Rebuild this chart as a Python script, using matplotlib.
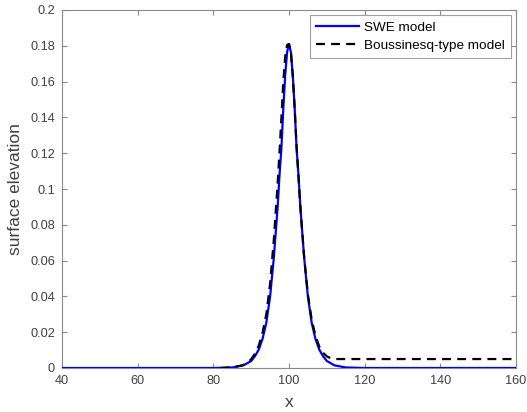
import matplotlib
matplotlib.use("Agg")
import matplotlib.pyplot as plt

# SWE model (blue, solid)
swe_x = [40, 80, 85, 88, 90, 91, 92, 93, 94, 95, 96, 97, 97.5, 98, 98.5, 99, 99.5, 100,
         100.5, 101, 101.5, 102, 102.5, 103, 104, 105, 106, 107, 108, 109, 110, 112, 115, 120, 160]
swe_y = [0, 0, 0.0003, 0.0015, 0.0039, 0.0066, 0.0103, 0.0162, 0.0252, 0.0398, 0.0618, 0.090, 0.108,
         0.123, 0.145, 0.1637, 0.1765, 0.181,
         0.1765, 0.1637, 0.145, 0.123, 0.108, 0.090, 0.0618, 0.0398, 0.0252, 0.0162, 0.0103,
         0.0066, 0.0039, 0.0015, 0.0003, 0, 0]

# Boussinesq-type model (black, dashed)
bous_x = [82, 85, 87, 88, 89, 90, 91, 92, 93, 94, 95, 96, 97, 97.5, 98, 98.5, 99, 99.5, 100,
          100.5, 101, 101.5, 102, 102.5, 103, 104, 105, 106, 107, 108, 109, 110, 111, 112, 160]
bous_y = [0, 0.0004, 0.0012, 0.0018, 0.0029, 0.0049, 0.0080, 0.0124, 0.0196, 0.030, 0.047, 0.072,
          0.103, 0.121, 0.140, 0.160, 0.174, 0.1805, 0.181,
          0.1765, 0.163, 0.145, 0.124, 0.107, 0.090, 0.062, 0.041, 0.027, 0.018, 0.012,
          0.0085, 0.0065, 0.0055, 0.005, 0.005]

x_ticks = [40, 60, 80, 100, 120, 140, 160]
y_ticks = [0, 0.02, 0.04, 0.06, 0.08, 0.1, 0.12, 0.14, 0.16, 0.18, 0.2]
y_tick_labels = ["0", "0.02", "0.04", "0.06", "0.08", "0.1", "0.12", "0.14", "0.16", "0.18", "0.2"]

plt.rcParams["font.family"] = ["Liberation Sans", "DejaVu Sans"]

W, H = 527, 412
fig = plt.figure(figsize=(W / 100, H / 100), dpi=100)
ax = fig.add_axes([62 / W, 1 - 368 / H, (516 - 62) / W, (368 - 10) / H])

spine_col = "#8a8a8a"
text_col = "#404040"

ax.plot(swe_x, swe_y, color="#0000ff", lw=1.6, label="SWE model", zorder=3)
ax.plot(bous_x, bous_y, color="black", lw=1.6, linestyle=(0, (4, 2.8)),
        label="Boussinesq-type model", zorder=4)

ax.set_xlim(40, 160)
ax.set_ylim(0, 0.2)
ax.set_xticks(x_ticks)
ax.set_yticks(y_ticks)
ax.set_yticklabels(y_tick_labels)

for s in ax.spines.values():
    s.set_color(spine_col)
    s.set_linewidth(0.8)
ax.tick_params(direction="in", length=3.5, width=0.8, color=spine_col,
               labelcolor=text_col, labelsize=9.2, top=True, right=True, pad=5)

ax.set_xlabel("x", fontsize=12.5, color=text_col, labelpad=6)
ax.set_ylabel("surface elevation", fontsize=12.5, color=text_col, labelpad=5)

leg = ax.legend(loc="upper right", fontsize=9.7, frameon=True, fancybox=False,
                edgecolor=spine_col, borderpad=0.46, handlelength=3.2,
                handletextpad=0.35, labelspacing=0.4, borderaxespad=0.4)
leg.get_frame().set_linewidth(0.8)
for t in leg.get_texts():
    t.set_color("black")

fig.savefig("out.png", dpi=100)
